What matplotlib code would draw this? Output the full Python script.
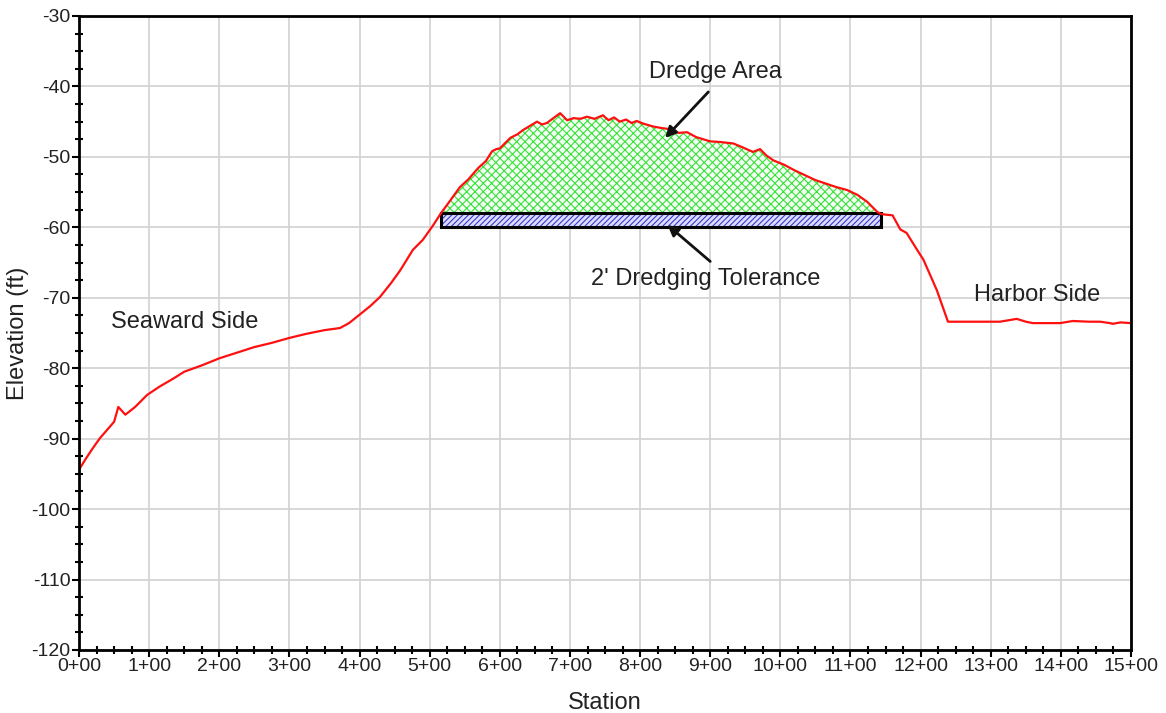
import matplotlib.pyplot as plt
import numpy as np
from matplotlib.patches import Rectangle
from matplotlib.ticker import MultipleLocator, FuncFormatter

plt.rcParams['font.family'] = ['Liberation Sans', 'DejaVu Sans']
plt.rcParams['axes.unicode_minus'] = False
plt.rcParams['hatch.linewidth'] = 0.8

# profile (station in hundreds of ft, elevation in ft)
station = [0.00, 0.10, 0.20, 0.30, 0.44, 0.50, 0.56, 0.66, 0.80, 0.97,
           1.15, 1.34, 1.50, 1.75, 2.00, 2.25, 2.50, 2.75, 3.00, 3.25,
           3.50, 3.72, 3.85, 4.00, 4.15, 4.29, 4.45, 4.58, 4.76, 4.90,
           5.05, 5.16, 5.30, 5.43, 5.55, 5.69, 5.80, 5.89, 5.95, 6.00,
           6.08, 6.15, 6.25, 6.33, 6.43, 6.53, 6.60, 6.67, 6.75, 6.86,
           6.96, 7.05, 7.15, 7.24, 7.35, 7.47, 7.55, 7.63, 7.71, 7.80,
           7.88, 7.95, 8.05, 8.19, 8.30, 8.45, 8.55, 8.67, 8.80, 9.00,
           9.15, 9.33, 9.45, 9.61, 9.71, 9.80, 9.90, 10.05, 10.20, 10.35,
           10.50, 10.65, 10.80, 10.95, 11.10, 11.24, 11.38, 11.43, 11.50, 11.60,
           11.71, 11.80, 11.95, 12.04, 12.23, 12.39, 12.60, 12.90, 13.13, 13.25,
           13.37, 13.50, 13.60, 13.80, 13.99, 14.17, 14.40, 14.56, 14.70, 14.74,
           14.85, 15.00]
elevation = [-94.4, -92.8, -91.3, -89.9, -88.3, -87.6, -85.5, -86.6, -85.5, -83.8,
             -82.6, -81.5, -80.5, -79.6, -78.6, -77.8, -77.0, -76.4, -75.7, -75.1,
             -74.6, -74.3, -73.6, -72.4, -71.2, -69.9, -67.9, -66.1, -63.2, -61.8,
             -59.7, -58.0, -56.1, -54.3, -53.2, -51.6, -50.6, -49.2, -48.9, -48.8,
             -48.0, -47.3, -46.8, -46.2, -45.6, -45.0, -45.4, -45.2, -44.6, -43.8,
             -44.8, -44.5, -44.6, -44.3, -44.6, -44.1, -44.8, -44.4, -45.0, -44.7,
             -45.2, -44.9, -45.3, -45.7, -45.9, -46.1, -46.6, -46.5, -47.2, -47.8,
             -47.9, -48.1, -48.6, -49.3, -48.9, -49.8, -50.5, -51.1, -51.9, -52.6,
             -53.3, -53.8, -54.3, -54.7, -55.4, -56.4, -57.8, -58.1, -58.2, -58.3,
             -60.3, -60.8, -63.2, -64.6, -68.9, -73.4, -73.4, -73.4, -73.4, -73.2,
             -73.0, -73.4, -73.6, -73.6, -73.6, -73.3, -73.4, -73.4, -73.6, -73.7,
             -73.5, -73.6]

dredge_start = 5.16
dredge_end = 11.43
dredge_depth = -58.0
tolerance = 2.0

st = np.array(station)
el = np.array(elevation)

fig, ax = plt.subplots(figsize=(11.66, 7.13), dpi=100)
fig.subplots_adjust(left=0.0678, right=0.970, bottom=0.0884, top=0.9776)

# dredge area
mask = (st >= dredge_start) & (st <= dredge_end)
ax.fill_between(st, el, dredge_depth, where=mask, facecolor='#f2fff2',
                edgecolor='#3ae03a', hatch='xxxx', linewidth=0, zorder=2)

# tolerance bar
ax.add_patch(Rectangle((dredge_start, dredge_depth - tolerance), dredge_end - dredge_start, tolerance,
                       facecolor='#dcdcff', edgecolor='#3838c8', hatch='//////', linewidth=0, zorder=3))
ax.add_patch(Rectangle((dredge_start, dredge_depth - tolerance), dredge_end - dredge_start, tolerance,
                       fill=False, edgecolor='black', linewidth=2.2, zorder=4))

ax.plot(st, el, color='#ff1010', linewidth=1.6, zorder=5)

ax.set_xlim(0, 15)
ax.set_ylim(-120, -30)
ax.xaxis.set_major_locator(MultipleLocator(1))
ax.xaxis.set_minor_locator(MultipleLocator(0.25))
ax.yaxis.set_major_locator(MultipleLocator(10))
ax.yaxis.set_minor_locator(MultipleLocator(2.5))
ax.xaxis.set_major_formatter(FuncFormatter(lambda v, p: f"{int(round(v))}+00"))
ax.yaxis.set_major_formatter(FuncFormatter(lambda v, p: f"{int(round(v))}"))
ax.tick_params(which='major', direction='out', length=5, width=1.5, labelsize=14, pad=1,
               labelcolor='#222222')
ax.tick_params(which='minor', direction='inout', length=6, width=1.5)
ax.grid(True, which='major', color='#d4d4d4', linewidth=1.3)
ax.set_axisbelow(True)
for s in ax.spines.values():
    s.set_linewidth(2)
    s.set_zorder(6)

ax.set_xlabel('Station', fontsize=17, labelpad=12, color='#222222')
ax.set_ylabel('Elevation (ft)', fontsize=17, color='#222222', va='center')
ax.yaxis.set_label_coords(-0.058, 0.5)

ax.text(9.07, -37.9, 'Dredge Area', fontsize=17, ha='center', va='center', color='#222222')
ax.annotate('', xy=(8.33, -47.6), xytext=(9.0, -40.5),
            arrowprops=dict(arrowstyle='-|>', color='#111111', lw=2, mutation_scale=16), zorder=7)
ax.text(8.93, -67.3, "2' Dredging Tolerance", fontsize=17, ha='center', va='center', color='#222222')
ax.annotate('', xy=(8.36, -59.4), xytext=(9.03, -65.1),
            arrowprops=dict(arrowstyle='-|>', color='#111111', lw=2, mutation_scale=16), zorder=7)
ax.text(1.5, -73.4, 'Seaward Side', fontsize=17, ha='center', va='center', color='#222222')
ax.text(13.66, -69.6, 'Harbor Side', fontsize=17, ha='center', va='center', color='#222222')

fig.savefig('out.png', dpi=100)
